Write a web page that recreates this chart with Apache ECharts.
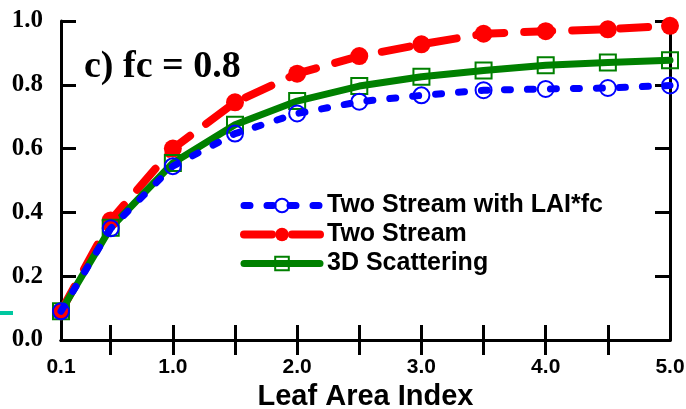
<!DOCTYPE html>
<html>
<head>
<meta charset="utf-8">
<script src="https://cdn.jsdelivr.net/npm/echarts@6/dist/echarts.min.js"></script>
<style>
  html, body { margin: 0; padding: 0; background: #fff; }
  #chart { width: 686px; height: 409px; }
</style>
</head>
<body>
<div id="chart"></div>
<script>
// Leaf area index samples
const lai = [0.1, 0.5, 1.0, 1.5, 2.0, 2.5, 3.0, 3.5, 4.0, 4.5, 5.0];

// Series values
const twoStreamLaiFc = [0.09, 0.350, 0.545, 0.647, 0.710, 0.747, 0.767, 0.783, 0.787, 0.790, 0.798];
const twoStream      = [0.09, 0.375, 0.600, 0.745, 0.835, 0.890, 0.927, 0.960, 0.968, 0.974, 0.985];
const scattering3d   = [0.09, 0.352, 0.555, 0.675, 0.749, 0.796, 0.825, 0.845, 0.861, 0.870, 0.877];

// Axis labels and ticks
const xLabelValues = [0.1, 1, 2, 3, 4, 5];
const xTickValues = [0.5, 1, 1.5, 2, 2.5, 3, 3.5, 4, 4.5];
const seriesNames = ['Two Stream with LAI*fc', 'Two Stream', '3D Scattering'];
const panelTitle = 'c) fc = 0.8';
const xAxisTitle = 'Leaf Area Index';

const pairs = vals => lai.map((x, i) => [x, vals[i]]);

const axisLine = { show: true, lineStyle: { color: '#000', width: 3 } };
const tickStyle = { color: '#000', width: 3 };

const chart = echarts.init(document.getElementById('chart'), null, { renderer: 'canvas' });

chart.setOption({
  animation: false,
  backgroundColor: '#fff',
  grid: { left: 61, right: 16, top: 21, bottom: 69, containLabel: false, outerBoundsMode: 'none' },
  title: {
    text: panelTitle,
    left: 79, top: 43,
    textStyle: { fontFamily: 'Liberation Serif', fontWeight: 'bold', fontSize: 38, color: '#000' }
  },
  legend: {
    orient: 'vertical',
    left: 235, top: 188,
    itemWidth: 76, itemHeight: 17, itemGap: 4,
    data: [
      { name: seriesNames[0], lineStyle: { width: 7 } },
      { name: seriesNames[1], lineStyle: { width: 8 } },
      { name: seriesNames[2], lineStyle: { width: 7 } }
    ],
    textStyle: { fontFamily: 'Liberation Sans', fontWeight: 'bold', fontSize: 25, color: '#000', padding: [0, 0, 0, 2] }
  },
  xAxis: [{
    type: 'value', min: 0.1, max: 5.0,
    position: 'bottom',
    name: xAxisTitle, nameLocation: 'middle', nameGap: 31,
    nameTextStyle: { fontFamily: 'Liberation Sans', fontWeight: 'bold', fontSize: 29, color: '#000' },
    axisLine: axisLine,
    axisTick: { show: true, inside: true, length: 15, lineStyle: tickStyle, customValues: xTickValues },
    axisLabel: {
      show: true, margin: 17, customValues: xLabelValues,
      formatter: v => v.toFixed(1),
      fontFamily: 'Liberation Sans', fontWeight: 'bold', fontSize: 21, color: '#000'
    },
    splitLine: { show: false }
  }, {
    type: 'value', min: 0.1, max: 5.0,
    position: 'top',
    axisLine: axisLine,
    axisTick: { show: true, inside: true, length: 15, lineStyle: tickStyle, customValues: xTickValues },
    axisLabel: { show: false },
    splitLine: { show: false }
  }],
  yAxis: [{
    type: 'value', min: 0, max: 1, interval: 0.2,
    position: 'left',
    axisLine: axisLine,
    axisTick: { show: true, inside: true, length: 15, lineStyle: tickStyle },
    axisLabel: {
      margin: 18, formatter: v => v.toFixed(1),
      fontFamily: 'Liberation Serif', fontWeight: 'bold', fontSize: 25, color: '#000'
    },
    splitLine: { show: false }
  }, {
    type: 'value', min: 0, max: 1, interval: 0.2,
    position: 'right',
    axisLine: axisLine,
    axisTick: { show: true, inside: true, length: 15, lineStyle: tickStyle },
    axisLabel: { show: false },
    splitLine: { show: false }
  }],
  series: [{
    name: seriesNames[0], type: 'line', data: pairs(twoStreamLaiFc),
    xAxisIndex: 0, yAxisIndex: 0,
    symbol: 'circle', symbolSize: 16,
    itemStyle: { color: 'rgba(0,0,0,0)', borderColor: '#0000ff', borderWidth: 2 },
    lineStyle: { color: '#0000ff', width: 7, type: [6, 17], cap: 'round' },
    z: 3
  }, {
    name: seriesNames[1], type: 'line', data: pairs(twoStream),
    xAxisIndex: 0, yAxisIndex: 0,
    symbol: 'circle', symbolSize: 18,
    itemStyle: { color: '#ff0000', borderWidth: 0 },
    lineStyle: { color: '#ff0000', width: 8, type: [28, 20], cap: 'round' },
    z: 2
  }, {
    name: seriesNames[2], type: 'line', data: pairs(scattering3d),
    xAxisIndex: 0, yAxisIndex: 0,
    symbol: 'rect', symbolSize: 16,
    itemStyle: { color: 'rgba(0,0,0,0)', borderColor: '#008000', borderWidth: 2 },
    lineStyle: { color: '#008000', width: 7, type: 'solid', cap: 'round' },
    z: 2
  }],
  graphic: [{
    type: 'rect', left: 0, top: 311,
    shape: { width: 13, height: 4 },
    style: { fill: '#00c8a0' }
  }]
});
</script>
</body>
</html>
